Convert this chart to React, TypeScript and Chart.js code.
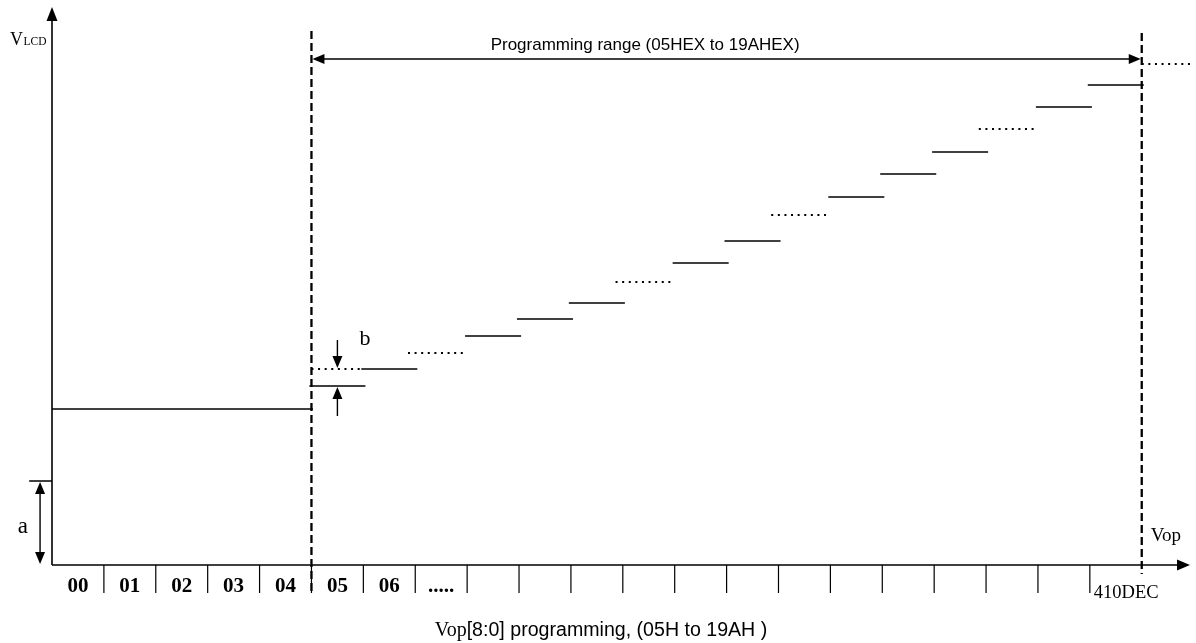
import { useEffect, useRef } from "react";
import { Chart, registerables } from "chart.js";

Chart.register(...registerables);

// ---- data ----
const cellLabels = ["00", "01", "02", "03", "04", "05", "06", "....."];
const cellCount = 21;
const endLabel = "410DEC";
const baseLevel = 15.6; // output for codes 00..04
const baseCells = 5;
const stepCells = [5, 6, 7, 8, 9, 10, 11, 12, 13, 14, 15, 16, 17, 18, 19, 20];
const stepLevels = [17.9, 19.6, 21.2, 22.9, 24.6, 26.2, 28.3, 30.2, 32.4, 35.0, 36.8, 39.1, 41.3, 43.6, 45.8, 48.0];
const stepDotted = [false, false, true, false, false, false, true, false, false, true, false, false, false, true, false, false];
const refLevel = 19.6; // dotted reference for step "b"
const overflowLevel = 50.1;
const offsetA = 8.4;
const rangeStart = 5;
const rangeEnd = 21;
const rangeLevel = 50.6;
const rangeLabel = "Programming range (05HEX to 19AHEX)";
const yAxisLabel = ["V", "LCD"];
const xAxisLabel = "Vop";
const titleParts = ["Vop", "[8:0] programming, (05H to 19AH )"];
const xMax = 21.93;
const yMax = 55.7;

const SERIF = '"Liberation Serif", "Times New Roman", serif';
const SANS = '"Liberation Sans", Arial, sans-serif';

function seg(x0: number, x1: number, y: number, dotted: boolean) {
  return {
    data: [
      { x: x0, y },
      { x: x1, y },
    ],
    borderColor: "#000",
    borderWidth: dotted ? 2 : 1.4,
    borderDash: dotted ? [2, 4.6] : [],
    borderCapStyle: "butt" as const,
    pointRadius: 0,
    fill: false,
    tension: 0,
    clip: false as const,
  };
}

function buildDatasets() {
  const ds: any[] = [];
  ds.push(seg(0, baseCells + 0.03, baseLevel, false));
  stepCells.forEach((c, i) => {
    const d = stepDotted[i];
    const shift = d ? -0.1 : 0;
    ds.push(seg(c - 0.04 + shift, c + 1.04 + shift, stepLevels[i], d));
  });
  ds.push(seg(stepCells[0], stepCells[0] + 0.98, refLevel, true));
  ds.push(seg(rangeEnd, xMax, overflowLevel, true));
  return ds;
}

function arrowHead(ctx: CanvasRenderingContext2D, tx: number, ty: number, dx: number, dy: number, len: number, half: number) {
  const bx = tx - dx * len;
  const by = ty - dy * len;
  const nx = -dy;
  const ny = dx;
  ctx.beginPath();
  ctx.moveTo(tx, ty);
  ctx.lineTo(bx + nx * half, by + ny * half);
  ctx.lineTo(bx - nx * half, by - ny * half);
  ctx.closePath();
  ctx.fill();
}

const diagramPlugin = {
  id: "diagram",
  afterDraw(chart: any) {
    const ctx: CanvasRenderingContext2D = chart.ctx;
    const xs = chart.scales.x;
    const ys = chart.scales.y;
    const X = (v: number) => xs.getPixelForValue(v);
    const Y = (v: number) => ys.getPixelForValue(v);
    const x0 = X(0);
    const y0 = Y(0);
    ctx.save();
    ctx.strokeStyle = "#000";
    ctx.fillStyle = "#000";

    // axes
    ctx.lineWidth = 1.6;
    ctx.setLineDash([]);
    const yTip = Y(yMax) - 1;
    const xTip = X(xMax);
    ctx.beginPath();
    ctx.moveTo(x0, y0);
    ctx.lineTo(x0, yTip + 10);
    ctx.moveTo(x0, y0);
    ctx.lineTo(xTip - 10, y0);
    ctx.stroke();
    arrowHead(ctx, x0, yTip, 0, -1, 14, 5.5);
    arrowHead(ctx, xTip, y0, 1, 0, 13, 5.5);

    // cell separators
    ctx.lineWidth = 1.2;
    ctx.beginPath();
    for (let i = 1; i < cellCount; i++) {
      ctx.moveTo(X(i), y0);
      ctx.lineTo(X(i), y0 + 28);
    }
    ctx.stroke();

    // cell labels
    ctx.font = `bold 21px ${SERIF}`;
    ctx.textAlign = "center";
    ctx.textBaseline = "alphabetic";
    cellLabels.forEach((t, i) => {
      ctx.fillText(t, X(i + 0.5), y0 + 27);
    });
    ctx.font = `18.5px ${SERIF}`;
    ctx.textAlign = "left";
    ctx.fillText(endLabel, X(cellCount - 1) + 4, y0 + 33);

    // dashed range boundaries
    ctx.lineWidth = 2.3;
    ctx.setLineDash([8, 4]);
    ctx.beginPath();
    ctx.moveTo(X(rangeStart), Y(53.4));
    ctx.lineTo(X(rangeStart), y0 + 26);
    ctx.moveTo(X(rangeEnd), Y(53.2));
    ctx.lineTo(X(rangeEnd), y0 + 9);
    ctx.stroke();
    ctx.setLineDash([]);

    // range arrow
    const ry = Y(rangeLevel);
    ctx.lineWidth = 1.4;
    ctx.beginPath();
    ctx.moveTo(X(rangeStart) + 8, ry);
    ctx.lineTo(X(rangeEnd) - 8, ry);
    ctx.stroke();
    arrowHead(ctx, X(rangeStart) + 1, ry, -1, 0, 12, 5);
    arrowHead(ctx, X(rangeEnd) - 1, ry, 1, 0, 12, 5);
    ctx.font = `17px ${SANS}`;
    ctx.textAlign = "center";
    ctx.fillText(rangeLabel, X(11.43), ry - 9);

    // offset "a"
    const ax = X(-0.23);
    const ay = Y(offsetA);
    ctx.lineWidth = 1.4;
    ctx.beginPath();
    ctx.moveTo(X(-0.44), ay);
    ctx.lineTo(x0, ay);
    ctx.moveTo(ax, ay + 8);
    ctx.lineTo(ax, y0 - 8);
    ctx.stroke();
    arrowHead(ctx, ax, ay + 1, 0, -1, 12, 5);
    arrowHead(ctx, ax, y0 - 1, 0, 1, 12, 5);
    ctx.font = `23px ${SERIF}`;
    ctx.textAlign = "center";
    ctx.fillText("a", X(-0.56), y0 - 32);

    // step "b"
    const bx = X(stepCells[0] + 0.5);
    ctx.beginPath();
    ctx.moveTo(bx, Y(refLevel + 2.9));
    ctx.lineTo(bx, Y(refLevel) - 10);
    ctx.moveTo(bx, Y(stepLevels[0]) + 10);
    ctx.lineTo(bx, Y(stepLevels[0] - 3.0));
    ctx.stroke();
    arrowHead(ctx, bx, Y(refLevel) - 1, 0, 1, 12, 5);
    arrowHead(ctx, bx, Y(stepLevels[0]) + 1, 0, -1, 12, 5);
    ctx.font = `22px ${SERIF}`;
    ctx.textAlign = "left";
    ctx.fillText("b", bx + 22, Y(refLevel + 2.4));

    // axis labels
    ctx.textAlign = "left";
    ctx.font = `18px ${SERIF}`;
    const vx = x0 - 42;
    const vy = 45;
    ctx.fillText(yAxisLabel[0], vx, vy);
    const vw = ctx.measureText(yAxisLabel[0]).width;
    ctx.font = `11.5px ${SERIF}`;
    ctx.fillText(yAxisLabel[1], vx + vw + 0.5, vy);

    ctx.font = `19px ${SERIF}`;
    ctx.fillText(xAxisLabel, X(rangeEnd) + 9, y0 - 24);

    // bottom title
    ctx.font = `20px ${SERIF}`;
    const w1 = ctx.measureText(titleParts[0]).width;
    ctx.font = `19.6px ${SANS}`;
    const w2 = ctx.measureText(titleParts[1]).width;
    const cx = X(10.58);
    const sx = cx - (w1 + w2) / 2;
    const ty = 636;
    ctx.font = `20px ${SERIF}`;
    ctx.fillText(titleParts[0], sx, ty);
    ctx.font = `19.6px ${SANS}`;
    ctx.fillText(titleParts[1], sx + w1, ty);

    ctx.restore();
  },
};

export default function App() {
  const ref = useRef<HTMLCanvasElement | null>(null);
  useEffect(() => {
    if (!ref.current) return;
    const chart = new Chart(ref.current, {
      type: "line",
      data: { datasets: buildDatasets() },
      options: {
        animation: false,
        responsive: false,
        events: [],
        layout: { padding: { left: 52, top: 8, right: 6, bottom: 78 } },
        plugins: { legend: { display: false }, tooltip: { enabled: false } },
        scales: {
          x: { type: "linear", min: 0, max: xMax, display: false },
          y: { type: "linear", min: 0, max: yMax, display: false },
        },
      },
      plugins: [diagramPlugin],
    });
    return () => chart.destroy();
  }, []);
  return (
    <div style={{ position: "absolute", left: 0, top: 0, width: 1196, height: 643, background: "#fff" }}>
      <canvas ref={ref} width={1196} height={643} style={{ width: 1196, height: 643, display: "block" }} />
    </div>
  );
}
